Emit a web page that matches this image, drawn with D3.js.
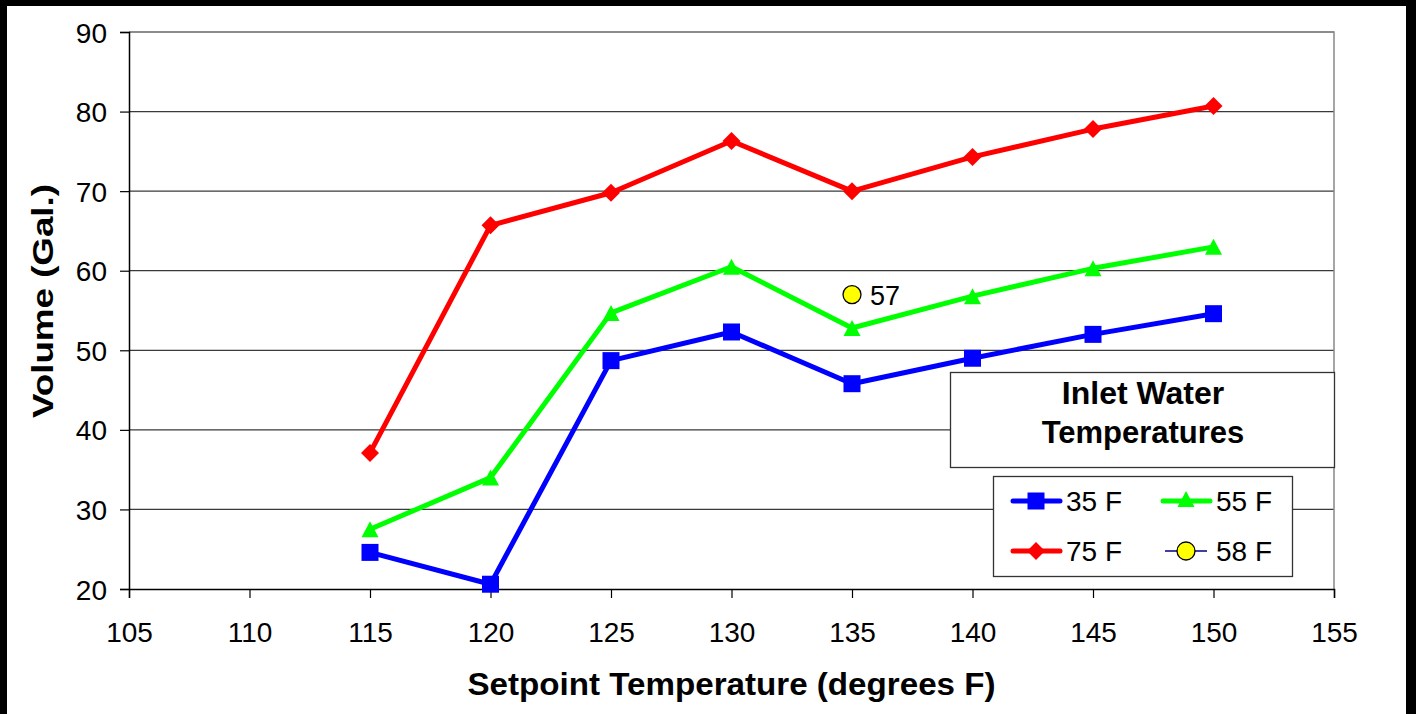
<!DOCTYPE html>
<html>
<head>
<meta charset="utf-8">
<script src="https://cdn.jsdelivr.net/npm/d3@7"></script>
<style>
  html, body { margin: 0; padding: 0; background: #000; }
  svg { display: block; font-family: "Liberation Sans", Arial, sans-serif; }
</style>
</head>
<body>
<svg id="chart" width="1416" height="714"></svg>
<script>
// Setpoint temperatures (degrees F)
const setpoints = [115, 120, 125, 130, 135, 140, 145, 150];

// Volume (gal.) for each inlet water temperature
const vol35 = [24.6, 20.6, 48.7, 52.3, 45.8, 49.0, 52.0, 54.6];
const vol55 = [27.5, 34.0, 54.7, 60.5, 52.8, 56.8, 60.3, 63.0];
const vol75 = [37.1, 65.7, 69.8, 76.3, 70.0, 74.3, 77.8, 80.7];

// Single measurement at 58 F inlet
const single58 = [{ x: 135, y: 57 }];

const xTicks = [105, 110, 115, 120, 125, 130, 135, 140, 145, 150, 155];
const yTicks = [20, 30, 40, 50, 60, 70, 80, 90];

const svg = d3.select("#chart");

// white page inside the black frame
svg.append("rect").attr("x", 7).attr("y", 6).attr("width", 1399).attr("height", 708).attr("fill", "#fff");

const plot = { left: 129, top: 32, right: 1334, bottom: 589 };
const x = d3.scaleLinear().domain([105, 155]).range([plot.left, plot.right]);
const y = d3.scaleLinear().domain([20, 90]).range([plot.bottom, plot.top]);

// marker shapes
const markerPath = {
  square: "M-8.5,-8.5H8.5V8.5H-8.5Z",
  triangle: "M0,-8L8.5,8L-8.5,8Z",
  diamond: "M0,-9L9,0L0,9L-9,0Z"
};

// gridlines
svg.append("g").selectAll("line").data(yTicks.filter(v => v > 20)).join("line")
  .attr("x1", plot.left).attr("x2", plot.right)
  .attr("y1", d => y(d)).attr("y2", d => y(d))
  .attr("stroke", "#3a3a3a").attr("stroke-width", 1.2);

// plot frame (top/right)
svg.append("path")
  .attr("d", `M${plot.left},${plot.top}H${plot.right}V${plot.bottom}`)
  .attr("fill", "none").attr("stroke", "#888").attr("stroke-width", 1.5);

// axes
const yAxis = svg.append("g").attr("transform", `translate(${plot.left},0)`)
  .call(d3.axisLeft(y).tickValues(yTicks).tickSize(9).tickPadding(13).tickFormat(d3.format("d")));
const xAxis = svg.append("g").attr("transform", `translate(0,${plot.bottom})`)
  .call(d3.axisBottom(x).tickValues(xTicks).tickSize(9).tickPadding(23).tickFormat(d3.format("d")));
[yAxis, xAxis].forEach(a => {
  a.select(".domain").attr("stroke", "#000").attr("stroke-width", 1.5);
  a.selectAll(".tick line").attr("stroke", "#000").attr("stroke-width", 1.2);
  a.selectAll("text").attr("font-size", 28).attr("fill", "#000")
    .attr("font-family", "Liberation Sans, Arial, sans-serif");
});
yAxis.selectAll("text").attr("dy", "0.36em");
xAxis.selectAll("text").attr("dy", "0.74em");

// axis titles
svg.append("text").attr("x", (plot.left + plot.right) / 2).attr("y", 695)
  .attr("text-anchor", "middle").attr("font-size", 31).attr("font-weight", "bold")
  .attr("textLength", 528).attr("lengthAdjust", "spacingAndGlyphs")
  .text("Setpoint Temperature (degrees F)");
svg.append("text").attr("transform", `translate(53,301) rotate(-90)`)
  .attr("text-anchor", "middle").attr("font-size", 30).attr("font-weight", "bold")
  .attr("textLength", 234).attr("lengthAdjust", "spacingAndGlyphs")
  .text("Volume (Gal.)");

const line = d3.line().x(d => x(d.x)).y(d => y(d.y));

const series = [
  { name: "35 F", color: "#0000ff", values: vol35, marker: markerPath.square },
  { name: "55 F", color: "#00ff00", values: vol55, marker: markerPath.triangle },
  { name: "75 F", color: "#ff0000", values: vol75, marker: markerPath.diamond }
];

// draw 75 first so lower series sit on top
[series[2], series[1], series[0]].forEach(s => {
  const pts = setpoints.map((t, i) => ({ x: t, y: s.values[i] }));
  svg.append("path").datum(pts).attr("d", line)
    .attr("fill", "none").attr("stroke", s.color).attr("stroke-width", 5)
    .attr("stroke-linejoin", "round");
  svg.append("g").selectAll("path").data(pts).join("path")
    .attr("d", s.marker)
    .attr("transform", d => `translate(${x(d.x)},${y(d.y)})`)
    .attr("fill", s.color);
});

// 58 F single point with label
svg.append("g").selectAll("circle").data(single58).join("circle")
  .attr("cx", d => x(d.x)).attr("cy", d => y(d.y)).attr("r", 9)
  .attr("fill", "#ffff00").attr("stroke", "#000").attr("stroke-width", 1.3);
svg.append("g").selectAll("text").data(single58).join("text")
  .attr("x", d => x(d.x) + 18).attr("y", d => y(d.y) + 10)
  .attr("font-size", 27).text(d => d.y);

// legend title box
svg.append("rect").attr("x", 950.5).attr("y", 372.5).attr("width", 384).attr("height", 95)
  .attr("fill", "#fff").attr("stroke", "#333").attr("stroke-width", 1.3);
svg.append("text").attr("x", 1143).attr("y", 404).attr("text-anchor", "middle")
  .attr("font-size", 32).attr("font-weight", "bold").text("Inlet Water");
svg.append("text").attr("x", 1143).attr("y", 443).attr("text-anchor", "middle")
  .attr("font-size", 31).attr("font-weight", "bold").text("Temperatures");

// legend box
svg.append("rect").attr("x", 993.5).attr("y", 476.5).attr("width", 299).attr("height", 100)
  .attr("fill", "#fff").attr("stroke", "#333").attr("stroke-width", 1.3);

const legendItems = [
  { s: series[0], col: 0, row: 0 },
  { s: series[1], col: 1, row: 0 },
  { s: series[2], col: 0, row: 1 },
  { s: { name: "58 F" }, col: 1, row: 1 }
];
legendItems.forEach(it => {
  const lx = 1013 + it.col * 150, ly = 501 + it.row * 50;
  const g = svg.append("g");
  if (it.s.name === "58 F") {
    g.append("line").attr("x1", lx + 2).attr("x2", lx + 44).attr("y1", ly).attr("y2", ly)
      .attr("stroke", "#000080").attr("stroke-width", 1.5);
    g.append("circle").attr("cx", lx + 23).attr("cy", ly).attr("r", 9)
      .attr("fill", "#ffff00").attr("stroke", "#000").attr("stroke-width", 1.3);
  } else {
    g.append("line").attr("x1", lx).attr("x2", lx + 47).attr("y1", ly).attr("y2", ly)
      .attr("stroke", it.s.color).attr("stroke-width", 5).attr("stroke-linecap", "round");
    g.append("path").attr("d", it.s.marker)
      .attr("transform", `translate(${lx + 23},${ly - (it.s.marker === markerPath.triangle ? 2 : 0)})`)
      .attr("fill", it.s.color);
  }
  g.append("text").attr("x", lx + 53).attr("y", ly + 10).attr("font-size", 28).text(it.s.name);
});
</script>
</body>
</html>
